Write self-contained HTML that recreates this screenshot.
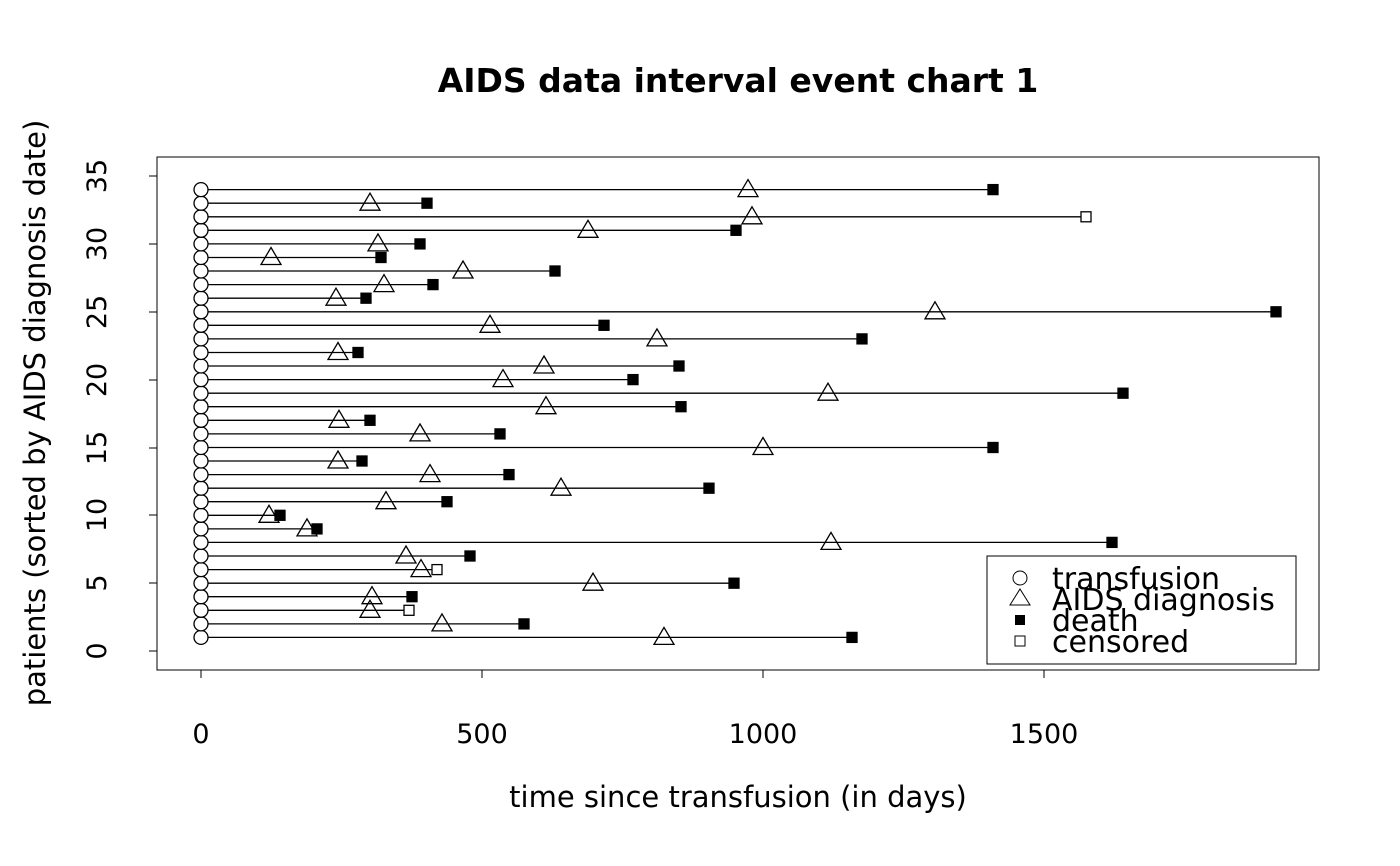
<!DOCTYPE html>
<html><head><style>body{margin:0;background:#fff}svg{display:block}text{font-family:"DejaVu Sans","Liberation Sans",sans-serif}</style></head>
<body>
<svg width="1400" height="866" xmlns="http://www.w3.org/2000/svg">
<defs>
<polygon id="t" points="0,-10 10,7 -10,7" fill="none" stroke="#000"/>
<rect id="D" x="-5" y="-5" width="10" height="10" fill="#000"/>
<rect id="C" x="-5" y="-5" width="10" height="10" fill="#fff" stroke="#000"/>
<circle id="o" cx="201" cy="0" r="7" fill="#fff" stroke="#000"/>
</defs>
<text x="738" y="92" font-size="33" font-weight="bold" text-anchor="middle">AIDS data interval event chart 1</text>
<rect x="157" y="157" width="1162" height="513" fill="none" stroke="#000" stroke-width="1"/>
<g stroke="#000" stroke-width="1">
<line x1="201" y1="670" x2="1044" y2="670"/>
<line x1="201" y1="670" x2="201" y2="678"/><line x1="482" y1="670" x2="482" y2="678"/><line x1="763" y1="670" x2="763" y2="678"/><line x1="1044" y1="670" x2="1044" y2="678"/>
<line x1="157" y1="651" x2="157" y2="176"/>
<line x1="149" y1="651" x2="157" y2="651"/><line x1="149" y1="583" x2="157" y2="583"/><line x1="149" y1="515" x2="157" y2="515"/><line x1="149" y1="448" x2="157" y2="448"/><line x1="149" y1="380" x2="157" y2="380"/><line x1="149" y1="312" x2="157" y2="312"/><line x1="149" y1="244" x2="157" y2="244"/><line x1="149" y1="176" x2="157" y2="176"/>
</g>
<g font-size="27" text-anchor="middle">
<text x="201" y="743">0</text><text x="482" y="743">500</text><text x="763" y="743">1000</text><text x="1044" y="743">1500</text>
</g>
<g font-size="27" text-anchor="middle">
<text transform="translate(106,651) rotate(-90)">0</text>
<text transform="translate(106,583) rotate(-90)">5</text>
<text transform="translate(106,515) rotate(-90)">10</text>
<text transform="translate(106,448) rotate(-90)">15</text>
<text transform="translate(106,380) rotate(-90)">20</text>
<text transform="translate(106,312) rotate(-90)">25</text>
<text transform="translate(106,244) rotate(-90)">30</text>
<text transform="translate(106,176) rotate(-90)">35</text>
</g>
<text x="738" y="807" font-size="29" text-anchor="middle">time since transfusion (in days)</text>
<text transform="translate(45,413) rotate(-90)" font-size="29" text-anchor="middle">patients (sorted by AIDS diagnosis date)</text>
<g stroke="#000" stroke-width="1.3">
<g transform="translate(0,637.4)"><line x1="201" x2="852"/><use href="#o"/><use href="#t" x="664"/><use href="#D" x="852"/></g>
<g transform="translate(0,623.9)"><line x1="201" x2="524"/><use href="#o"/><use href="#t" x="442"/><use href="#D" x="524"/></g>
<g transform="translate(0,610.3)"><line x1="201" x2="409"/><use href="#o"/><use href="#t" x="370"/><use href="#C" x="409"/></g>
<g transform="translate(0,596.7)"><line x1="201" x2="412"/><use href="#o"/><use href="#t" x="372"/><use href="#D" x="412"/></g>
<g transform="translate(0,583.2)"><line x1="201" x2="734"/><use href="#o"/><use href="#t" x="593"/><use href="#D" x="734"/></g>
<g transform="translate(0,569.6)"><line x1="201" x2="437"/><use href="#o"/><use href="#t" x="421"/><use href="#C" x="437"/></g>
<g transform="translate(0,556.0)"><line x1="201" x2="470"/><use href="#o"/><use href="#t" x="406"/><use href="#D" x="470"/></g>
<g transform="translate(0,542.4)"><line x1="201" x2="1112"/><use href="#o"/><use href="#t" x="831"/><use href="#D" x="1112"/></g>
<g transform="translate(0,528.9)"><line x1="201" x2="317"/><use href="#o"/><use href="#t" x="307"/><use href="#D" x="317"/></g>
<g transform="translate(0,515.3)"><line x1="201" x2="280"/><use href="#o"/><use href="#t" x="269"/><use href="#D" x="280"/></g>
<g transform="translate(0,501.7)"><line x1="201" x2="447"/><use href="#o"/><use href="#t" x="386"/><use href="#D" x="447"/></g>
<g transform="translate(0,488.2)"><line x1="201" x2="709"/><use href="#o"/><use href="#t" x="561"/><use href="#D" x="709"/></g>
<g transform="translate(0,474.6)"><line x1="201" x2="509"/><use href="#o"/><use href="#t" x="430"/><use href="#D" x="509"/></g>
<g transform="translate(0,461.0)"><line x1="201" x2="362"/><use href="#o"/><use href="#t" x="338"/><use href="#D" x="362"/></g>
<g transform="translate(0,447.5)"><line x1="201" x2="993"/><use href="#o"/><use href="#t" x="763"/><use href="#D" x="993"/></g>
<g transform="translate(0,433.9)"><line x1="201" x2="500"/><use href="#o"/><use href="#t" x="420"/><use href="#D" x="500"/></g>
<g transform="translate(0,420.3)"><line x1="201" x2="370"/><use href="#o"/><use href="#t" x="339"/><use href="#D" x="370"/></g>
<g transform="translate(0,406.7)"><line x1="201" x2="681"/><use href="#o"/><use href="#t" x="546"/><use href="#D" x="681"/></g>
<g transform="translate(0,393.2)"><line x1="201" x2="1123"/><use href="#o"/><use href="#t" x="828"/><use href="#D" x="1123"/></g>
<g transform="translate(0,379.6)"><line x1="201" x2="633"/><use href="#o"/><use href="#t" x="503"/><use href="#D" x="633"/></g>
<g transform="translate(0,366.0)"><line x1="201" x2="679"/><use href="#o"/><use href="#t" x="544"/><use href="#D" x="679"/></g>
<g transform="translate(0,352.5)"><line x1="201" x2="358"/><use href="#o"/><use href="#t" x="338"/><use href="#D" x="358"/></g>
<g transform="translate(0,338.9)"><line x1="201" x2="862"/><use href="#o"/><use href="#t" x="657"/><use href="#D" x="862"/></g>
<g transform="translate(0,325.3)"><line x1="201" x2="604"/><use href="#o"/><use href="#t" x="490"/><use href="#D" x="604"/></g>
<g transform="translate(0,311.8)"><line x1="201" x2="1276"/><use href="#o"/><use href="#t" x="935"/><use href="#D" x="1276"/></g>
<g transform="translate(0,298.2)"><line x1="201" x2="366"/><use href="#o"/><use href="#t" x="336"/><use href="#D" x="366"/></g>
<g transform="translate(0,284.6)"><line x1="201" x2="433"/><use href="#o"/><use href="#t" x="384"/><use href="#D" x="433"/></g>
<g transform="translate(0,271.0)"><line x1="201" x2="555"/><use href="#o"/><use href="#t" x="463"/><use href="#D" x="555"/></g>
<g transform="translate(0,257.5)"><line x1="201" x2="381"/><use href="#o"/><use href="#t" x="271"/><use href="#D" x="381"/></g>
<g transform="translate(0,243.9)"><line x1="201" x2="420"/><use href="#o"/><use href="#t" x="378"/><use href="#D" x="420"/></g>
<g transform="translate(0,230.3)"><line x1="201" x2="736"/><use href="#o"/><use href="#t" x="588"/><use href="#D" x="736"/></g>
<g transform="translate(0,216.8)"><line x1="201" x2="1086"/><use href="#o"/><use href="#t" x="752"/><use href="#C" x="1086"/></g>
<g transform="translate(0,203.2)"><line x1="201" x2="427"/><use href="#o"/><use href="#t" x="370"/><use href="#D" x="427"/></g>
<g transform="translate(0,189.6)"><line x1="201" x2="993"/><use href="#o"/><use href="#t" x="748"/><use href="#D" x="993"/></g>
</g>
<rect x="987" y="556" width="309" height="108" fill="#fff" stroke="#000"/>
<circle cx="1020" cy="578" r="7" fill="none" stroke="#000"/>
<polygon points="1020,589 1030,605 1010,605" fill="none" stroke="#000"/>
<rect x="1015" y="615" width="10" height="10" fill="#000"/>
<rect x="1015" y="636" width="10" height="10" fill="none" stroke="#000"/>
<g font-size="30"><text x="1052" y="589">transfusion</text><text x="1052" y="610">AIDS diagnosis</text><text x="1052" y="631">death</text><text x="1052" y="652">censored</text></g>
</svg>
</body></html>
